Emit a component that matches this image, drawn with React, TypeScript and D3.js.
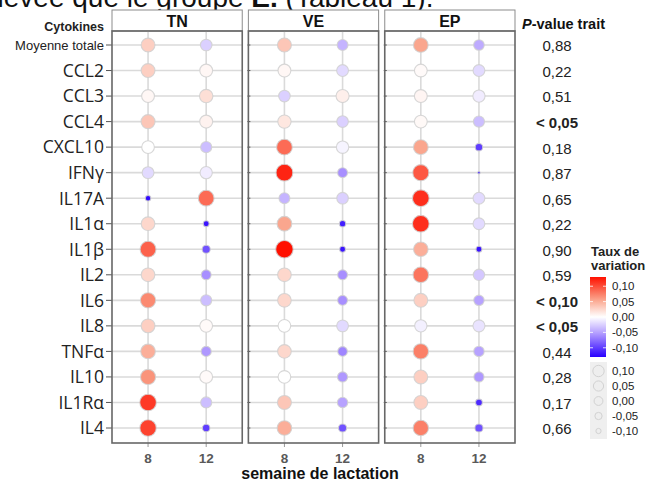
import * as React from "react";
import * as d3 from "d3";

// cytokines (rows) and groups (panels)
const cytokines = ["Moyenne totale", "CCL2", "CCL3", "CCL4", "CXCL10", "IFNγ", "IL17A", "IL1α", "IL1β", "IL2", "IL6", "IL8", "TNFα", "IL10", "IL1Rα", "IL4"];
const groups = ["TN", "VE", "EP"];
const weeks = ["8", "12"];

// taux de variation, one array per group x week
const tn8 = [0.03, 0.03, 0.005, 0.035, 0.0, -0.02, -0.125, 0.025, 0.09, 0.025, 0.07, 0.03, 0.05, 0.065, 0.11, 0.105];
const tn12 = [-0.025, 0.005, 0.02, 0.008, -0.035, -0.01, 0.085, -0.12, -0.09, -0.06, -0.035, 0.003, -0.055, 0.003, -0.035, -0.1];
const ve8 = [0.035, 0.005, -0.025, 0.015, 0.085, 0.12, -0.04, 0.055, 0.14, 0.025, 0.025, 0.0, 0.025, 0.0, 0.035, 0.05];
const ve12 = [-0.04, -0.02, 0.01, -0.025, -0.006, -0.06, -0.025, -0.115, -0.12, -0.06, -0.06, -0.02, -0.065, -0.055, -0.05, -0.09];
const ep8 = [0.055, 0.003, 0.006, 0.004, 0.055, 0.095, 0.115, 0.115, 0.05, 0.08, 0.03, -0.008, 0.075, 0.03, 0.03, 0.075];
const ep12 = [-0.045, -0.02, -0.01, -0.035, -0.1, -0.148, -0.02, -0.02, -0.12, -0.03, -0.05, -0.015, -0.05, -0.055, -0.11, -0.09];

const pValues = ["0,88", "0,22", "0,51", "< 0,05", "0,18", "0,87", "0,65", "0,22", "0,90", "0,59", "< 0,10", "< 0,05", "0,44", "0,28", "0,17", "0,66"];
const legendTicks = [0.1, 0.05, 0, -0.05, -0.1];
const legendLabels = ["0,10", "0,05", "0,00", "-0,05", "-0,10"];

const series: Record<string, Record<string, number[]>> = {
  TN: { "8": tn8, "12": tn12 },
  VE: { "8": ve8, "12": ve12 },
  EP: { "8": ep8, "12": ep12 },
};

const ARIAL = "'Liberation Sans', Arial, sans-serif";
const CALIBRI = "'Open Sans', 'DejaVu Sans', sans-serif";

export default function App() {
  const top = 31, bottom = 443, headTop = 10;
  const panelX = d3.scaleBand().domain(groups).range([112, 515]).paddingInner(0.045);
  const weekX = d3.scalePoint().domain(weeks).range([0, panelX.bandwidth()]).padding(0.62);
  const y = d3.scalePoint().domain(cytokines).range([45, 428]);

  const color = d3.scaleLinear<string>()
    .domain([-0.13, -0.06, 0, 0.06, 0.13])
    .range(["#2800ff", "#a88fff", "#ffffff", "#fa9e84", "#ff1000"])
    .clamp(true);
  const area = d3.scaleLinear().domain([0, 0.1]).range([40, 66]);
  const radius = (v: number) => Math.sqrt(Math.max(0.8, area(v)));

  // legend
  const barY = d3.scaleLinear().domain([-0.13, 0.13]).range([357, 277]);
  const gradStops = d3.range(0, 1.0001, 0.1).map(t => ({ t, c: color(0.13 - t * 0.26) }));
  const sizeY = d3.scalePoint().domain(legendLabels).range([371, 431]);

  return (
    <svg width={649} height={482} style={{ position: "absolute", left: 0, top: 0, background: "#fff" }}>
      <defs>
        <linearGradient id="cbar" x1="0" y1="0" x2="0" y2="1">
          {gradStops.map((s, i) => <stop key={i} offset={s.t} stopColor={s.c} />)}
        </linearGradient>
      </defs>

      {/* text from the page above, cut by the crop */}
      <text x={-18} y={7} fontFamily={ARIAL} fontSize={28} fill="#111">
        élevée que le groupe <tspan fontWeight="bold">E.</tspan> (Tableau 1).
      </text>

      <text x={104} y={31} textAnchor="end" fontFamily={ARIAL} fontSize={12.5} fontWeight="bold" fill="#222">Cytokines</text>
      {cytokines.map((c, i) => (
        <g key={c}>
          <text x={104} y={y(c)} dy="0.36em" textAnchor="end"
            fontFamily={i === 0 ? ARIAL : CALIBRI} fontSize={i === 0 ? 13 : 17.5} fill="#222">{c}</text>
          <line x1={106} x2={112} y1={y(c)} y2={y(c)} stroke="#555" strokeWidth={1} />
        </g>
      ))}

      {groups.map(g => {
        const x0 = panelX(g)!;
        const w = panelX.bandwidth();
        return (
          <g key={g} transform={`translate(${x0},0)`}>
            <rect x={0} y={headTop} width={w} height={top - headTop} fill="#fff" stroke="#8c8c8c" strokeWidth={1} />
            <text x={w / 2} y={top - 4.5} textAnchor="middle" fontFamily={ARIAL} fontWeight="bold" fontSize={16} fill="#111">{g}</text>
            {cytokines.map(c => (
              <g key={c}>
                <line x1={0} x2={w} y1={y(c)} y2={y(c)} stroke="#dadada" strokeWidth={1.6} />
                {g !== "TN" && <line x1={-1} x2={2} y1={y(c)} y2={y(c)} stroke="#555" strokeWidth={1} />}
              </g>
            ))}
            {weeks.map(wk => (
              <g key={wk}>
                <line x1={weekX(wk)} x2={weekX(wk)} y1={top} y2={bottom} stroke="#dadada" strokeWidth={1.6} />
                <line x1={weekX(wk)} x2={weekX(wk)} y1={bottom} y2={bottom + 4} stroke="#999" strokeWidth={1} />
                <text x={weekX(wk)} y={463} textAnchor="middle" fontFamily={ARIAL} fontWeight="bold" fontSize={13.5} fill="#595959">{wk}</text>
              </g>
            ))}
            {weeks.map(wk => series[g][wk].map((v, i) => (
              <circle key={wk + i} cx={weekX(wk)} cy={y(cytokines[i])} r={radius(v)}
                fill={color(v)} stroke="#d0d0d0" strokeOpacity={0.85} strokeWidth={1.1} />
            )))}
            <rect x={0} y={top} width={w} height={bottom - top} fill="none" stroke="#676767" strokeWidth={1.6} />
          </g>
        );
      })}

      <text x={320} y={479} textAnchor="middle" fontFamily={ARIAL} fontWeight="bold" fontSize={16} fill="#111">semaine de lactation</text>

      {/* p-values */}
      <text x={522} y={29} fontFamily={ARIAL} fontWeight="bold" fontSize={14.5} fill="#111">
        <tspan fontStyle="italic">P</tspan>-value trait
      </text>
      {pValues.map((p, i) => (
        <text key={i} x={557} y={y(cytokines[i])! + 1} dy="0.36em" textAnchor="middle" fontFamily={ARIAL}
          fontSize={15} fontWeight={p.startsWith("<") ? "bold" : "normal"} fill="#222">{p}</text>
      ))}

      {/* colour legend */}
      <text x={591} y={256} fontFamily={ARIAL} fontWeight="bold" fontSize={13} fill="#222">Taux de</text>
      <text x={591} y={270} fontFamily={ARIAL} fontWeight="bold" fontSize={13} fill="#222">variation</text>
      <rect x={590} y={barY(0.13)} width={16} height={barY(-0.13) - barY(0.13)} fill="url(#cbar)" />
      {legendTicks.map((t, i) => (
        <g key={t}>
          <line x1={590} x2={593} y1={barY(t)} y2={barY(t)} stroke="#fff" strokeWidth={0.8} />
          <line x1={603} x2={606} y1={barY(t)} y2={barY(t)} stroke="#fff" strokeWidth={0.8} />
          <text x={612} y={barY(t)} dy="0.35em" fontFamily={ARIAL} fontSize={11.5} fill="#222">{legendLabels[i]}</text>
        </g>
      ))}

      {/* size legend */}
      <rect x={590} y={362} width={17} height={77} fill="#efefef" />
      {legendTicks.map((t, i) => (
        <g key={t}>
          <circle cx={598.5} cy={sizeY(legendLabels[i])} r={radius(t) * 0.7} fill="#eeeeee" stroke="#d2d2d2" strokeWidth={1} />
          <text x={612} y={sizeY(legendLabels[i])} dy="0.35em" fontFamily={ARIAL} fontSize={11.5} fill="#222">{legendLabels[i]}</text>
        </g>
      ))}
    </svg>
  );
}
